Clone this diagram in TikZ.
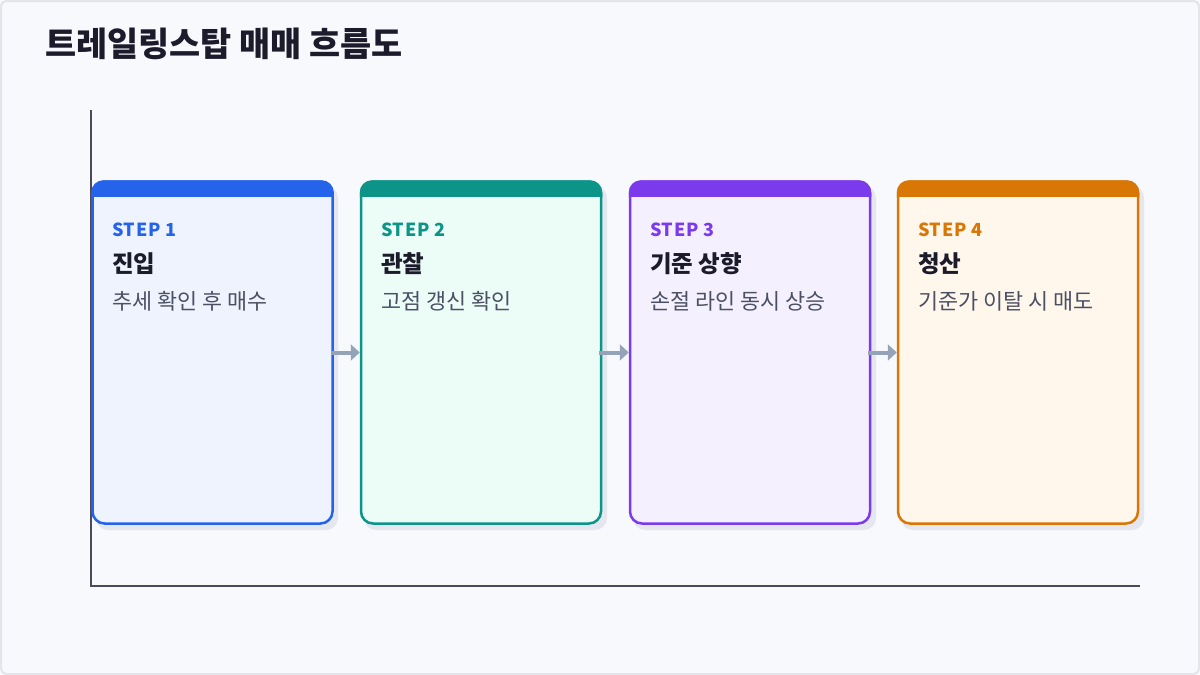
\documentclass[tikz,border=0pt]{standalone}
\usepackage{fontspec}
\setmainfont{Noto Sans CJK KR}
\usetikzlibrary{positioning,arrows.meta}

\definecolor{bgcol}{HTML}{F8F9FD}
\definecolor{framecol}{HTML}{E3E5EB}
\definecolor{shadowcol}{HTML}{E4E7EE}
\definecolor{axiscol}{HTML}{4A4A5C}
\definecolor{flowcol}{HTML}{94A3B8}
\definecolor{titlecol}{HTML}{1B1B2B}
\definecolor{desccol}{HTML}{4B5065}
\definecolor{bluec}{HTML}{2563EB}
\definecolor{bluel}{HTML}{EEF3FE}
\definecolor{tealc}{HTML}{0D9488}
\definecolor{teall}{HTML}{ECFDF8}
\definecolor{purpc}{HTML}{7C3AED}
\definecolor{purpl}{HTML}{F4F0FE}
\definecolor{orngc}{HTML}{D97706}
\definecolor{orngl}{HTML}{FFF7EB}

\tikzset{
  card/.style={draw, rectangle, rounded corners=12pt, line width=2.5pt, minimum width=240pt, minimum height=342pt, inner sep=0pt},
  cardshadow/.style={fill=shadowcol, rounded corners=12pt},
  steplbl/.style={anchor=west, inner sep=0pt, font=\bfseries\fontsize{18}{21}\selectfont\addfontfeature{LetterSpace=4}},
  steptitle/.style={anchor=west, inner sep=0pt, text=titlecol, font=\bfseries\fontsize{23.5}{28}\selectfont},
  stepdesc/.style={anchor=west, inner sep=0pt, text=desccol, font=\fontsize{21.8}{26}\selectfont},
  flow/.style={draw=flowcol, line width=4pt, -{Triangle[length=9pt, width=16pt]}},
  axisline/.style={draw=axiscol, line width=2pt},
}

\begin{document}
\begin{tikzpicture}[x=1pt,y=-1pt]
\useasboundingbox (0,0) rectangle (1200,675);

% background and frame
\fill[bgcol] (0,0) rectangle (1200,675);
\draw[framecol, line width=2pt, rounded corners=6pt] (1,1) rectangle (1199,674);

% Title
\node[anchor=west, inner sep=0pt, text=titlecol, font=\bfseries\fontsize{33.8}{40}\selectfont] (title) at (45,44) {트레일링스탑 매매 흐름도};

% Axis
\coordinate (ytop) at (91,110);
\coordinate (origin) at (91,586);
\coordinate (xend) at (1140,586);
\draw[axisline] (ytop) -- (origin) -- (xend);

% Shadows
\fill[cardshadow] (96,186) rectangle (338,530);
\fill[cardshadow] (364,186) rectangle (607,530);
\fill[cardshadow] (633,186) rectangle (876,530);
\fill[cardshadow] (901,186) rectangle (1144,530);

% Card 1
\node[card, draw=bluec, fill=bluel] (s1) at (212.5,352.5) {};
\begin{scope}
\clip[rounded corners=12pt] (s1.north west) rectangle (s1.south east);
\fill[bluec] ([xshift=-2pt, yshift=2pt]s1.north west) rectangle ([xshift=2pt, yshift=-17pt]s1.north east);
\end{scope}
\node[steplbl, text=bluec] (s1step) at (112,230) {STEP 1};
\node[steptitle] (s1name) at (112,264) {진입};
\node[stepdesc] (s1desc) at (112,301) {추세 확인 후 매수};

% Card 2
\node[card, draw=tealc, fill=teall] (s2) at (481,352.5) {};
\begin{scope}
\clip[rounded corners=12pt] (s2.north west) rectangle (s2.south east);
\fill[tealc] ([xshift=-2pt, yshift=2pt]s2.north west) rectangle ([xshift=2pt, yshift=-17pt]s2.north east);
\end{scope}
\node[steplbl, text=tealc] (s2step) at (381,230) {STEP 2};
\node[steptitle] (s2name) at (381,264) {관찰};
\node[stepdesc] (s2desc) at (381,301) {고점 갱신 확인};

% Card 3
\node[card, draw=purpc, fill=purpl] (s3) at (750,352.5) {};
\begin{scope}
\clip[rounded corners=12pt] (s3.north west) rectangle (s3.south east);
\fill[purpc] ([xshift=-2pt, yshift=2pt]s3.north west) rectangle ([xshift=2pt, yshift=-17pt]s3.north east);
\end{scope}
\node[steplbl, text=purpc] (s3step) at (650,230) {STEP 3};
\node[steptitle] (s3name) at (650,264) {기준 상향};
\node[stepdesc] (s3desc) at (650,301) {손절 라인 동시 상승};

% Card 4
\node[card, draw=orngc, fill=orngl] (s4) at (1018,352.5) {};
\begin{scope}
\clip[rounded corners=12pt] (s4.north west) rectangle (s4.south east);
\fill[orngc] ([xshift=-2pt, yshift=2pt]s4.north west) rectangle ([xshift=2pt, yshift=-17pt]s4.north east);
\end{scope}
\node[steplbl, text=orngc] (s4step) at (918,230) {STEP 4};
\node[steptitle] (s4name) at (918,264) {청산};
\node[stepdesc] (s4desc) at (918,301) {기준가 이탈 시 매도};

% Arrows
\draw[flow] ([xshift=-3pt]s1.east) -- (s2.west);
\draw[flow] ([xshift=-3pt]s2.east) -- (s3.west);
\draw[flow] ([xshift=-3pt]s3.east) -- (s4.west);

\end{tikzpicture}
\end{document}
